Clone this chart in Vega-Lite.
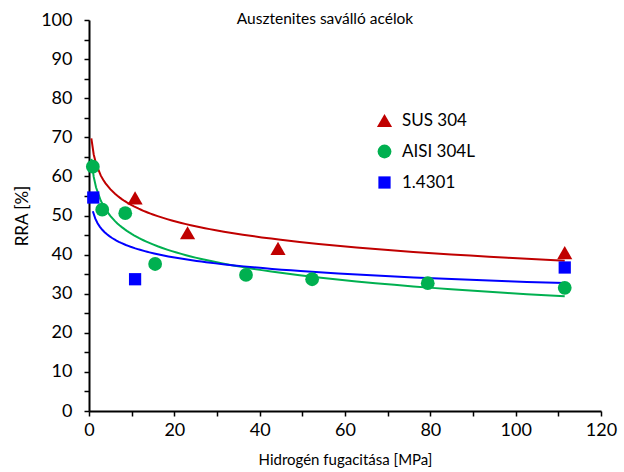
{
  "$schema": "https://vega.github.io/schema/vega-lite/v6.json",
  "width": 512,
  "height": 391,
  "autosize": {"type": "none"},
  "padding": {"left": 89, "top": 20, "right": 23, "bottom": 61},
  "background": "white",
  "config": {"view": {"stroke": null}, "font": "Lato"},
  "title": {"text": "Ausztenites saválló acélok", "fontSize": 15.5, "fontWeight": "normal", "font": "Lato", "color": "black", "anchor": "middle", "frame": "group", "dx": -20, "offset": -16},
  "data": {"values": [
    {"series": "SUS 304", "f": 10.8, "rra": 54.5},
    {"series": "SUS 304", "f": 23.1, "rra": 45.6},
    {"series": "SUS 304", "f": 44.3, "rra": 41.6},
    {"series": "SUS 304", "f": 111.5, "rra": 40.5},
    {"series": "AISI 304L", "f": 0.9, "rra": 62.5},
    {"series": "AISI 304L", "f": 3.1, "rra": 51.5},
    {"series": "AISI 304L", "f": 8.5, "rra": 50.6},
    {"series": "AISI 304L", "f": 15.5, "rra": 37.6},
    {"series": "AISI 304L", "f": 36.8, "rra": 34.8},
    {"series": "AISI 304L", "f": 52.3, "rra": 33.7},
    {"series": "AISI 304L", "f": 79.4, "rra": 32.7},
    {"series": "AISI 304L", "f": 111.5, "rra": 31.5},
    {"series": "1.4301", "f": 1.0, "rra": 54.6},
    {"series": "1.4301", "f": 10.8, "rra": 33.7},
    {"series": "1.4301", "f": 111.5, "rra": 36.7}
  ]},
  "encoding": {
    "x": {"field": "f", "type": "quantitative", "scale": {"domain": [0, 120], "nice": false, "zero": true},
      "axis": {"title": "Hidrogén fugacitása [MPa]", "titleFontSize": 15, "titleFontWeight": "normal", "titleColor": "black", "titlePadding": 13,
        "values": [0, 10, 20, 30, 40, 50, 60, 70, 80, 90, 100, 110, 120],
        "labelExpr": "datum.value % 20 === 0 ? datum.label : ''",
        "labelFontSize": 18, "labelColor": "black", "labelPadding": 5, "labelFlush": false,
        "grid": false, "domainColor": "black", "domainWidth": 2, "tickColor": "black", "tickWidth": 1.5, "tickSize": 5}},
    "y": {"field": "rra", "type": "quantitative", "scale": {"domain": [0, 100], "nice": false},
      "axis": {"title": "RRA [%]", "titleFontSize": 17, "titleFontWeight": "normal", "titleColor": "black", "titlePadding": 9,
        "values": [0, 5, 10, 15, 20, 25, 30, 35, 40, 45, 50, 55, 60, 65, 70, 75, 80, 85, 90, 95, 100],
        "labelExpr": "datum.value % 10 === 0 ? datum.label : ''",
        "labelFontSize": 18, "labelColor": "black", "labelPadding": 12, "labelFlush": false,
        "grid": false, "domainColor": "black", "domainWidth": 2, "tickColor": "black", "tickWidth": 1.5, "tickSize": 5}}
  },
  "layer": [
    {
      "transform": [{"filter": "datum.series === 'SUS 304'"}, {"regression": "rra", "on": "f", "method": "log", "extent": [0.55, 111.5]}],
      "mark": {"type": "line", "color": "#C00000", "strokeWidth": 2},
      "encoding": {}
    },
    {
      "transform": [{"filter": "datum.series === 'AISI 304L'"}, {"regression": "rra", "on": "f", "method": "log", "extent": [0.55, 111.5]}],
      "mark": {"type": "line", "color": "#00B050", "strokeWidth": 2},
      "encoding": {}
    },
    {
      "transform": [{"filter": "datum.series === '1.4301'"}, {"regression": "rra", "on": "f", "method": "log", "extent": [0.9, 111.5]}],
      "mark": {"type": "line", "color": "#0000FF", "strokeWidth": 2},
      "encoding": {}
    },
    {
      "mark": {"type": "point", "filled": true, "opacity": 1, "strokeWidth": 0},
      "encoding": {
        "color": {"field": "series", "type": "nominal", "scale": {"domain": ["SUS 304", "AISI 304L", "1.4301"], "range": ["#C00000", "#00B050", "#0000FF"]},
          "legend": {"title": null, "orient": "none", "legendX": 287, "legendY": 92, "labelFontSize": 17, "labelColor": "black", "rowPadding": 13, "labelOffset": 9, "padding": 0, "symbolStrokeWidth": 0}},
        "shape": {"field": "series", "type": "nominal", "scale": {"domain": ["SUS 304", "AISI 304L", "1.4301"], "range": ["triangle-up", "circle", "square"]}},
        "size": {"field": "series", "type": "nominal", "scale": {"domain": ["SUS 304", "AISI 304L", "1.4301"], "range": [230, 150, 140]}}
      }
    }
  ]
}
